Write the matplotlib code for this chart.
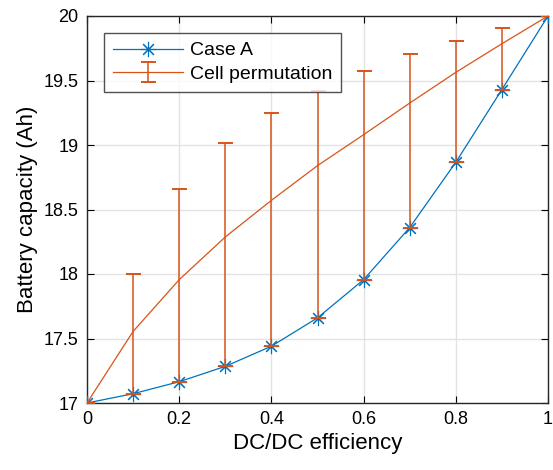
import matplotlib
matplotlib.use("Agg")
import matplotlib.pyplot as plt
import numpy as np

efficiency = [0.0, 0.1, 0.2, 0.3, 0.4, 0.5, 0.6, 0.7, 0.8, 0.9, 1.0]
case_a = [17.0, 17.072, 17.165, 17.284, 17.44, 17.66, 17.956, 18.36, 18.866, 19.43, 20.0]
perm_mean = [17.0, 17.555, 17.956, 18.287, 18.571, 18.84, 19.08, 19.325, 19.563, 19.785, 20.0]
perm_upper = [17.0, 18.0, 18.656, 19.018, 19.245, 19.42, 19.57, 19.705, 19.81, 19.91, 20.0]

x_ticks = [0, 0.2, 0.4, 0.6, 0.8, 1]
x_labels = ["0", "0.2", "0.4", "0.6", "0.8", "1"]
y_ticks = [17, 17.5, 18, 18.5, 19, 19.5, 20]
y_labels = ["17", "17.5", "18", "18.5", "19", "19.5", "20"]

plt.rcParams['font.family'] = ['Liberation Sans', 'DejaVu Sans']

blue = "#0072BD"
orange = "#D95319"

fig = plt.figure(figsize=(5.53, 4.70), dpi=100)
ax = fig.add_axes([87/553, 1 - 403/470, (548 - 87)/553, (403 - 16)/470])

ax.plot(efficiency, case_a, color=blue, lw=0.9, marker=(8, 2, 0),
        markersize=11, markeredgewidth=0.8, label="Case A", zorder=3)

pm = np.array(perm_mean)
lower = pm - np.array(case_a)
upper = np.array(perm_upper) - pm
ax.errorbar(efficiency, perm_mean, yerr=[lower, upper], color=orange, lw=0.9,
            elinewidth=1.1, capsize=5.4, capthick=1.4, label="Cell permutation", zorder=4)

ax.set_xlim(0, 1)
ax.set_ylim(17, 20)
ax.set_xticks(x_ticks)
ax.set_xticklabels(x_labels)
ax.set_yticks(y_ticks)
ax.set_yticklabels(y_labels)
ax.tick_params(direction="in", top=True, right=True, labelsize=13, length=5, width=0.8, pad=6)
ax.grid(True, color="#e3e3e3", lw=1.0)
ax.set_axisbelow(True)
for s in ax.spines.values():
    s.set_linewidth(1.0)
    s.set_color("#262626")

ax.set_xlabel("DC/DC efficiency", fontsize=16, labelpad=3)
ax.set_ylabel("Battery capacity (Ah)", fontsize=16, labelpad=4)

leg = ax.legend(loc="upper left", bbox_to_anchor=((104 - 87)/461, 1 - (33 - 16)/387),
                fontsize=14, frameon=True, fancybox=False, edgecolor="#262626",
                handlelength=3.6, handletextpad=0.35, borderpad=0.45, labelspacing=0.3,
                borderaxespad=0)
leg.get_frame().set_linewidth(1.0)

fig.savefig("out.png", dpi=100)
